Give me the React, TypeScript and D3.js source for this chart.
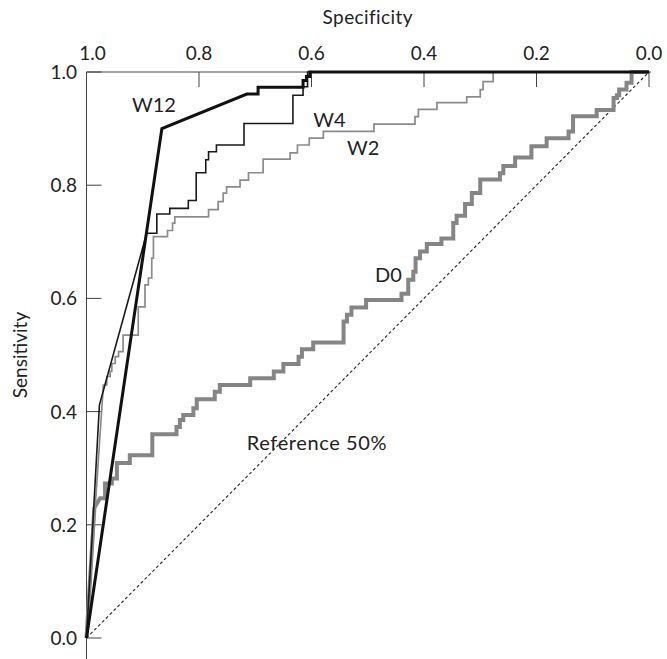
import React from "react";
import * as d3 from "d3";

// Tick values
const xTicks = [1.0, 0.8, 0.6, 0.4, 0.2, 0.0];
const yTicks = [0.0, 0.2, 0.4, 0.6, 0.8, 1.0];

// ROC curves: [specificity, sensitivity]
// "lead" vertices are joined by straight segments, "steps" follow as a step function
const w12Lead: [number, number][] = [[1, 0], [0.866, 0.9], [0.715, 0.961]];
const w12Steps: [number, number][] = [[0.695, 0.973], [0.615, 0.985], [0.609, 0.992], [0.603, 1.0], [0, 1.0]];

const w4Lead: [number, number][] = [[1, 0], [0.977, 0.412], [0.893, 0.715]];
const w4Steps: [number, number][] = [
  [0.875, 0.749], [0.852, 0.759], [0.819, 0.773], [0.805, 0.822], [0.788, 0.845],
  [0.783, 0.859], [0.769, 0.871], [0.72, 0.909], [0.633, 0.959], [0.615, 0.974],
  [0.607, 1.0], [0, 1.0],
];

const w2Lead: [number, number][] = [[1, 0], [0.97, 0.447]];
const w2Steps: [number, number][] = [
  [0.964, 0.462], [0.958, 0.471], [0.955, 0.485], [0.949, 0.497], [0.943, 0.506],
  [0.935, 0.535], [0.908, 0.585], [0.896, 0.624], [0.89, 0.636], [0.884, 0.671],
  [0.881, 0.709], [0.856, 0.72], [0.847, 0.733], [0.843, 0.744], [0.783, 0.757],
  [0.766, 0.771], [0.757, 0.786], [0.751, 0.797], [0.727, 0.809], [0.712, 0.822],
  [0.686, 0.846], [0.638, 0.857], [0.625, 0.871], [0.604, 0.883], [0.579, 0.895],
  [0.489, 0.908], [0.416, 0.921], [0.41, 0.934], [0.377, 0.946], [0.324, 0.956],
  [0.3, 0.969], [0.295, 0.983], [0.277, 1.0], [0, 1.0],
];

const d0Lead: [number, number][] = [[1, 0], [0.986, 0.23], [0.976, 0.247]];
const d0Steps: [number, number][] = [
  [0.967, 0.273], [0.955, 0.282], [0.946, 0.309], [0.923, 0.323], [0.883, 0.36],
  [0.84, 0.373], [0.834, 0.385], [0.828, 0.394], [0.81, 0.406], [0.804, 0.422],
  [0.772, 0.435], [0.763, 0.447], [0.709, 0.459], [0.667, 0.471], [0.65, 0.484],
  [0.623, 0.497], [0.617, 0.51], [0.597, 0.522], [0.543, 0.559], [0.537, 0.571],
  [0.529, 0.584], [0.503, 0.597], [0.44, 0.608], [0.428, 0.633], [0.419, 0.647],
  [0.415, 0.671], [0.407, 0.683], [0.395, 0.696], [0.369, 0.706], [0.348, 0.733],
  [0.342, 0.746], [0.327, 0.767], [0.315, 0.786], [0.3, 0.81], [0.265, 0.821],
  [0.259, 0.834], [0.238, 0.849], [0.209, 0.869], [0.182, 0.883], [0.143, 0.895],
  [0.135, 0.922], [0.093, 0.933], [0.063, 0.954], [0.057, 0.959], [0.053, 0.969],
  [0.04, 0.981], [0.031, 1.0], [0, 1.0],
];

const referenceLine: [number, number][] = [[1, 0], [0, 1]];

function vertices(lead: [number, number][], steps: [number, number][]) {
  const out: [number, number][] = [...lead];
  let prev = lead[lead.length - 1];
  for (const p of steps) {
    out.push([p[0], prev[1]]);
    out.push(p);
    prev = p;
  }
  return out;
}

const W = 667;
const H = 659;
const FONT = "Lato, 'Open Sans', sans-serif";

export default function App() {
  const x = d3.scaleLinear().domain([1, 0]).range([86.5, 649]);
  const y = d3.scaleLinear().domain([0, 1]).range([638, 72]);
  const line = d3
    .line<[number, number]>()
    .x((d) => x(d[0]))
    .y((d) => y(d[1]));

  const textColor = "#222";

  return (
    <svg
      width={W}
      height={H}
      viewBox={`0 0 ${W} ${H}`}
      style={{ position: "absolute", left: 0, top: 0, background: "#fff" }}
      fontFamily={FONT}
    >
      <rect x={0} y={0} width={W} height={H} fill="#fff" />
      {/* axes */}
      <line x1={x(1)} x2={x(0) + 2} y1={y(1)} y2={y(1)} stroke="#444" strokeWidth={1} />
      <line x1={x(1)} x2={x(1)} y1={y(1)} y2={H} stroke="#444" strokeWidth={1} />
      {xTicks.map((t) => (
        <g key={"xt" + t}>
          <line x1={x(t)} x2={x(t)} y1={y(1)} y2={y(1) + 15} stroke="#444" strokeWidth={1} />
          <text
            x={x(t) + (t === 1 ? 6 : 0)}
            y={y(1) - 12}
            textAnchor="middle"
            fontSize={19}
            fill={textColor}
          >
            {t.toFixed(1)}
          </text>
        </g>
      ))}
      {yTicks.map((t) => (
        <g key={"yt" + t}>
          <line x1={x(1)} x2={x(1) + 15} y1={y(t)} y2={y(t)} stroke="#444" strokeWidth={1} />
          <text x={77} y={y(t) + 7} textAnchor="end" fontSize={19} fill={textColor}>
            {t.toFixed(1)}
          </text>
        </g>
      ))}
      <text x={(x(1) + x(0)) / 2} y={24} textAnchor="middle" fontSize={19} letterSpacing={0.4} fill={textColor}>
        Specificity
      </text>
      <text
        transform={`translate(27, ${(y(0) + y(1)) / 2}) rotate(-90)`}
        textAnchor="middle"
        fontSize={19}
        fill={textColor}
      >
        Sensitivity
      </text>

      {/* reference diagonal */}
      <path
        d={line(referenceLine) || ""}
        fill="none"
        stroke="#222"
        strokeWidth={1.1}
        strokeDasharray="3,2.5"
      />
      {/* curves */}
      <path d={line(vertices(d0Lead, d0Steps)) || ""} fill="none" stroke="#858585" strokeWidth={4} strokeLinejoin="miter" />
      <path d={line(vertices(w2Lead, w2Steps)) || ""} fill="none" stroke="#8c8c8c" strokeWidth={1.7} strokeLinejoin="miter" />
      <path d={line(vertices(w4Lead, w4Steps)) || ""} fill="none" stroke="#1a1a1a" strokeWidth={1.6} strokeLinejoin="miter" />
      <path d={line(vertices(w12Lead, w12Steps)) || ""} fill="none" stroke="#111" strokeWidth={3} strokeLinejoin="miter" />

      {/* labels */}
      <text x={x(0.919)} y={y(0.929)} fontSize={20} fill={textColor}>W12</text>
      <text x={x(0.597)} y={y(0.903)} fontSize={20} fill={textColor}>W4</text>
      <text x={x(0.537)} y={y(0.853)} fontSize={20} fill={textColor}>W2</text>
      <text x={x(0.487)} y={y(0.629)} fontSize={20} fill={textColor}>D0</text>
      <text x={x(0.715)} y={y(0.332)} fontSize={20} letterSpacing={0.6} fill={textColor}>Reference 50%</text>
    </svg>
  );
}
